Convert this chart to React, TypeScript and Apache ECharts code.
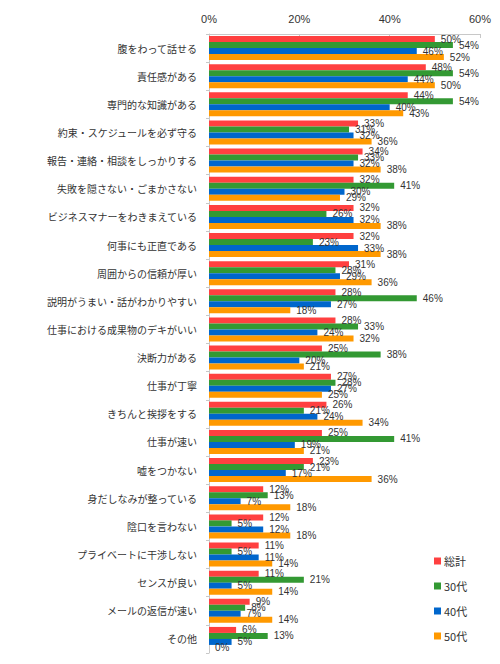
import React, { useEffect, useRef } from "react";
import * as echarts from "echarts";

const categories = [
  "腹をわって話せる",
  "責任感がある",
  "専門的な知識がある",
  "約束・スケジュールを必ず守る",
  "報告・連絡・相談をしっかりする",
  "失敗を隠さない・ごまかさない",
  "ビジネスマナーをわきまえている",
  "何事にも正直である",
  "周囲からの信頼が厚い",
  "説明がうまい・話がわかりやすい",
  "仕事における成果物のデキがいい",
  "決断力がある",
  "仕事が丁寧",
  "きちんと挨拶をする",
  "仕事が速い",
  "嘘をつかない",
  "身だしなみが整っている",
  "陰口を言わない",
  "プライベートに干渉しない",
  "センスが良い",
  "メールの返信が速い",
  "その他",
];

const seriesNames = ["総計", "30代", "40代", "50代"];
const total = [50, 48, 44, 33, 34, 32, 32, 32, 31, 28, 28, 25, 27, 26, 25, 23, 12, 12, 11, 11, 9, 6];
const age30 = [54, 54, 54, 31, 33, 41, 26, 23, 28, 46, 33, 38, 28, 21, 41, 21, 13, 5, 5, 21, 8, 13];
const age40 = [46, 44, 40, 32, 32, 30, 32, 33, 29, 27, 24, 20, 27, 24, 19, 17, 7, 12, 11, 5, 7, 5];
const age50 = [52, 50, 43, 36, 38, 29, 38, 38, 36, 18, 32, 21, 25, 34, 21, 36, 18, 18, 14, 14, 14, 0];
const xTicks = { min: 0, max: 60, interval: 20 };
const colors = ["#FF4040", "#339933", "#0066CC", "#FF9900"];

export default function App() {
  const ref = useRef<HTMLDivElement>(null);
  useEffect(() => {
    if (!ref.current) return;
    const chart = echarts.init(ref.current, null, { renderer: "svg" });
    const data = [total, age30, age40, age50];
    chart.setOption({
      animation: false,
      backgroundColor: "#ffffff",
      color: colors,
      textStyle: { fontFamily: "'Liberation Sans', 'Noto Sans CJK JP', sans-serif" },
      grid: { left: 209, top: 34, right: 20, bottom: 11, containLabel: false },
      legend: {
        orient: "vertical",
        left: 429,
        top: 550,
        icon: "rect",
        itemWidth: 7,
        itemHeight: 7,
        itemGap: 13,
        data: seriesNames,
        textStyle: {
          fontSize: 11,
          color: "#333",
          lineHeight: 12,
          fontFamily: "'Noto Sans CJK JP', sans-serif",
          padding: [0, 0, 0, -2],
        },
      },
      xAxis: {
        type: "value",
        position: "top",
        min: xTicks.min,
        max: xTicks.max,
        interval: xTicks.interval,
        axisLine: { show: true, lineStyle: { color: "#c8c8c8" } },
        axisTick: { show: true, inside: true, length: 4, lineStyle: { color: "#c8c8c8" } },
        splitLine: { show: false },
        axisLabel: {
          formatter: "{value}%",
          fontSize: 11,
          color: "#333",
          margin: 10,
          fontFamily: "'Liberation Sans', sans-serif",
        },
      },
      yAxis: {
        type: "category",
        inverse: true,
        data: categories,
        axisLine: { show: true, lineStyle: { color: "#c8c8c8" } },
        axisTick: { show: true, length: 3, lineStyle: { color: "#c8c8c8" } },
        axisLabel: {
          fontSize: 10,
          color: "#333",
          margin: 12,
          fontFamily: "'Noto Sans CJK JP', sans-serif",
        },
      },
      series: seriesNames.map((name, i) => ({
        name,
        type: "bar",
        data: data[i],
        barWidth: 6,
        barGap: "0%",
        itemStyle: { color: colors[i] },
        label: {
          show: true,
          position: "right",
          distance: 6,
          formatter: "{c}%",
          fontSize: 10,
          color: "#333",
          fontFamily: "'Liberation Sans', sans-serif",
        },
      })),
    });
    return () => chart.dispose();
  }, []);
  return (
    <div
      ref={ref}
      style={{ position: "absolute", left: 0, top: 0, width: 500, height: 664 }}
    />
  );
}
